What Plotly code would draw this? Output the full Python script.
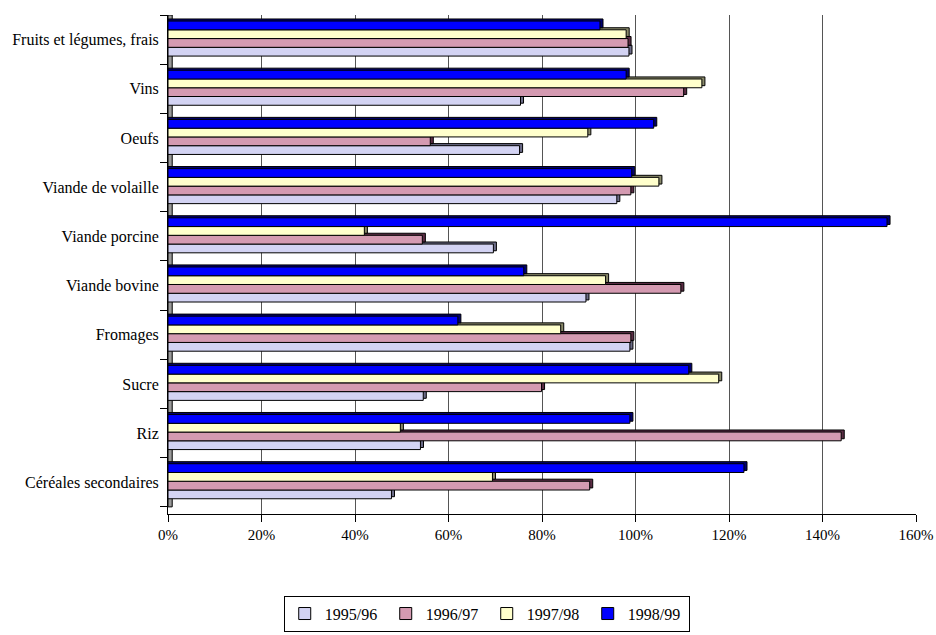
import plotly.graph_objects as go

# Categories, listed bottom to top as they appear on the axis
categories = [
    "Céréales secondaires", "Riz", "Sucre", "Fromages", "Viande bovine",
    "Viande porcine", "Viande de volaille", "Oeufs", "Vins",
    "Fruits et légumes, frais",
]
seasons = ["1995/96", "1996/97", "1997/98", "1998/99"]

# Self-sufficiency rate (%) per season, same order as categories
v_1995_96 = [47.8, 54.0, 54.6, 98.8, 89.4, 69.6, 96.0, 75.2, 75.4, 98.6]
v_1996_97 = [90.2, 144.0, 79.9, 99.0, 109.7, 54.4, 99.0, 56.1, 110.3, 98.4]
v_1997_98 = [69.4, 49.7, 117.8, 84.0, 93.6, 42.0, 105.0, 89.8, 114.2, 98.0]
v_1998_99 = [123.2, 98.8, 111.4, 62.0, 76.1, 153.8, 99.2, 103.9, 98.0, 92.4]

x_ticks = [0, 20, 40, 60, 80, 100, 120, 140, 160]
x_tick_labels = [f"{t}%" for t in x_ticks]

series = [v_1995_96, v_1996_97, v_1997_98, v_1998_99]

# Face styles: fill, pattern shape, pattern colour, side-face colour
faces = [
    dict(bg="#eeeeff", shape="|", fg="#b8b8e8", side="#6c6c88"),
    dict(bg="#c8869f", shape=".", fg="#e4b4c8", side="#5a2c44"),
    dict(bg="#ffffcc", shape="", fg="#ffffcc", side="#8a8a6a"),
    dict(bg="#0000ff", shape="", fg="#0000ff", side="#000070"),
]

bar_w = 0.178          # bar thickness in category units
first_off = -0.335     # offset of the lowest bar in each group
depth_x = 0.65         # horizontal depth of the 3-D side face (in %)
depth_y = 0.042        # vertical depth of the 3-D top face (category units)

FONT = "Times New Roman, Liberation Serif, DejaVu Serif, serif"

fig = go.Figure()

# Side/top faces drawn first, slightly up and to the right
for i, (vals, f) in enumerate(zip(series, faces)):
    fig.add_trace(go.Bar(
        y=categories, x=[v + depth_x for v in vals], orientation="h",
        offset=first_off + i * bar_w + depth_y, width=bar_w,
        marker=dict(color=f["side"], line=dict(color="#000000", width=1)),
        showlegend=False, hoverinfo="skip",
    ))

# Front faces
for i, (vals, name, f) in enumerate(zip(series, seasons, faces)):
    marker = dict(color=f["bg"], line=dict(color="#000000", width=1))
    if f["shape"]:
        marker["pattern"] = dict(shape=f["shape"], bgcolor=f["bg"],
                                 fgcolor=f["fg"], size=2, solidity=0.5,
                                 fillmode="replace")
    fig.add_trace(go.Bar(
        y=categories, x=vals, orientation="h", name=name,
        offset=first_off + i * bar_w, width=bar_w, marker=marker,
    ))

fig.update_layout(
    width=936, height=635, autosize=False,
    margin=dict(l=168, r=20, t=15, b=121, autoexpand=False),
    barmode="overlay",
    paper_bgcolor="#ffffff", plot_bgcolor="#ffffff",
    font=dict(family=FONT, size=16, color="#000000"),
    xaxis=dict(
        range=[0, 160], tickvals=x_ticks, ticktext=x_tick_labels,
        automargin=False,
        showgrid=True, gridcolor="#555555", gridwidth=1,
        zeroline=False, showline=True, linecolor="#000000", linewidth=1,
        ticks="outside", ticklen=7, tickcolor="#000000",
        tickfont=dict(family=FONT, size=15),
    ),
    yaxis=dict(
        categoryorder="array", categoryarray=categories,
        range=[-0.645, 9.5], automargin=False,
        showgrid=False, zeroline=False,
        showline=True, linecolor="#000000", linewidth=1,
        ticks="outside", ticklen=7, tickcolor="#000000",
        tickson="boundaries", ticklabelstandoff=5,
        tickfont=dict(family=FONT, size=16),
    ),
    legend=dict(
        orientation="h", xref="container", yref="container",
        x=0.52, xanchor="center", y=0.062, yanchor="top",
        bordercolor="#000000", borderwidth=1, bgcolor="#ffffff",
        font=dict(family=FONT, size=16), itemwidth=30, traceorder="normal",
        entrywidth=56, entrywidthmode="pixels",
    ),
    shapes=[
        # grey left wall behind the bars
        dict(type="rect", xref="x", yref="y", layer="below",
             x0=0, x1=0.9, y0=-0.5, y1=9.5,
             fillcolor="#9a9a9a", line=dict(color="#000000", width=1)),
    ],
)

fig.write_html("out.html")
